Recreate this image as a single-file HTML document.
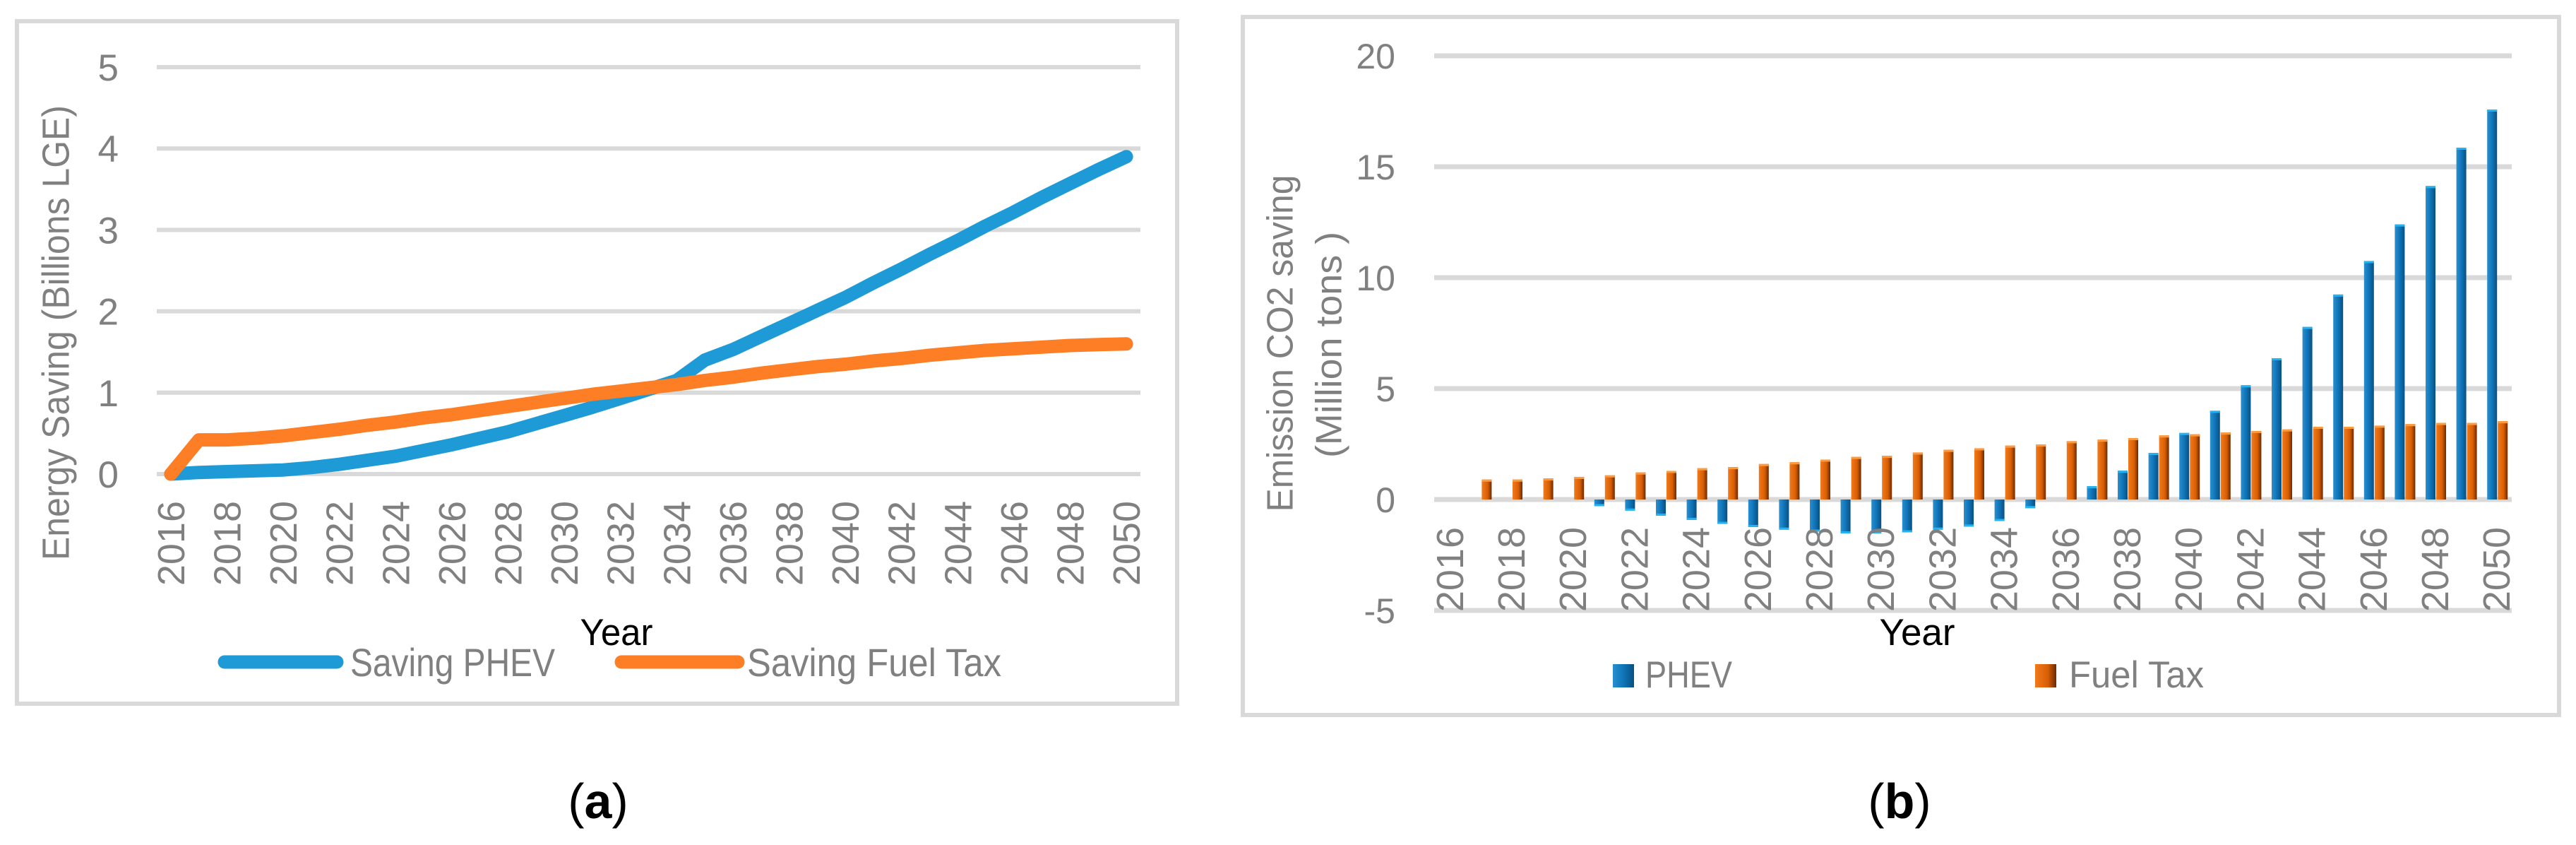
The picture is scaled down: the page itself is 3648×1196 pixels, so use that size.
<!DOCTYPE html>
<html><head><meta charset="utf-8"><style>
html,body{margin:0;padding:0;background:#fff;}
svg{display:block;}
text{font-family:"Liberation Sans",sans-serif;}
</style></head><body>
<svg id="fig" width="3648" height="1196" viewBox="0 0 3648 1196" xmlns="http://www.w3.org/2000/svg">
<defs>
<linearGradient id="gBlue" x1="0" y1="0" x2="1" y2="0">
<stop offset="0" stop-color="#2a8fd0"/><stop offset="0.5" stop-color="#0f75b8"/><stop offset="1" stop-color="#0a4f80"/></linearGradient>
<linearGradient id="gOrange" x1="0" y1="0" x2="1" y2="0">
<stop offset="0" stop-color="#f27a1a"/><stop offset="0.6" stop-color="#d85e05"/><stop offset="1" stop-color="#6b2a02"/></linearGradient>
</defs>
<g id="chartA">
<rect x="24" y="30" width="1643" height="966" fill="#fff" stroke="#d9d9d9" stroke-width="6"/>
<g id="aGrid"></g><g id="aXLabels"></g><g id="aLines"></g>
<text x="83" y="471" transform="rotate(-90 83 471)" text-anchor="middle" dominant-baseline="middle" font-size="54" fill="#808080" textLength="644" lengthAdjust="spacingAndGlyphs">Energy Saving (Billions LGE)</text>
<text x="873" y="913" text-anchor="middle" font-size="53" fill="#000" textLength="103" lengthAdjust="spacingAndGlyphs">Year</text>
<line x1="318" y1="937" x2="477" y2="937" stroke="#1e9bd7" stroke-width="19" stroke-linecap="round"/>
<text x="496" y="957" font-size="56" fill="#808080" textLength="290" lengthAdjust="spacingAndGlyphs">Saving PHEV</text>
<line x1="880" y1="937" x2="1045" y2="937" stroke="#fd7e24" stroke-width="19" stroke-linecap="round"/>
<text x="1058" y="957" font-size="56" fill="#808080" textLength="360" lengthAdjust="spacingAndGlyphs">Saving Fuel Tax</text>
</g>
<text x="847" y="1158" text-anchor="middle" font-size="70" font-family="Liberation Serif, serif" fill="#000">(<tspan font-weight="bold">a</tspan>)</text>

<g id="chartB">
<rect x="1760" y="24" width="1864" height="988" fill="#fff" stroke="#d9d9d9" stroke-width="6"/>
<g id="bGrid"></g><g id="bBars"></g><g id="bXLabels"></g>
<text x="1817" y="486" transform="rotate(-90 1817 486)" text-anchor="middle" dominant-baseline="middle" font-size="52" fill="#808080" textLength="477" lengthAdjust="spacingAndGlyphs">Emission CO2 saving</text>
<text x="1886" y="488" transform="rotate(-90 1886 488)" text-anchor="middle" dominant-baseline="middle" font-size="52" fill="#808080" textLength="320" lengthAdjust="spacingAndGlyphs">(Million tons )</text>
<text x="2715" y="913" text-anchor="middle" font-size="53" fill="#000" textLength="107" lengthAdjust="spacingAndGlyphs">Year</text>
<rect x="2284" y="940" width="30" height="33" fill="url(#gBlue)"/>
<text x="2330" y="973" font-size="53" fill="#808080" textLength="123" lengthAdjust="spacingAndGlyphs">PHEV</text>
<rect x="2882" y="940" width="30" height="33" fill="url(#gOrange)"/>
<text x="2930" y="973" font-size="53" fill="#808080" textLength="191" lengthAdjust="spacingAndGlyphs">Fuel Tax</text>
</g>
<text x="2690" y="1158" text-anchor="middle" font-size="70" font-family="Liberation Serif, serif" fill="#000">(<tspan font-weight="bold">b</tspan>)</text>
</svg>
<script>
const years = [];
for (let y = 2016; y <= 2050; y++) years.push(y);
const phevEnergy = [0,0.02,0.03,0.04,0.05,0.08,0.12,0.17,0.22,0.29,0.36,0.44,0.52,0.62,0.72,0.82,0.93,1.04,1.15,1.4,1.53,1.69,1.85,2.01,2.17,2.35,2.52,2.7,2.87,3.05,3.22,3.4,3.57,3.74,3.9];
const fuelEnergy = [0,0.42,0.42,0.44,0.47,0.51,0.55,0.6,0.64,0.69,0.73,0.78,0.83,0.88,0.93,0.98,1.02,1.06,1.1,1.15,1.19,1.24,1.28,1.32,1.35,1.39,1.42,1.46,1.49,1.52,1.54,1.56,1.58,1.59,1.6];
const aTicks = [0,1,2,3,4,5];
const phevCO2 = [0,0,0,0,0,-0.3,-0.5,-0.73,-0.92,-1.1,-1.24,-1.36,-1.45,-1.53,-1.53,-1.48,-1.36,-1.22,-0.97,-0.39,0,0.6,1.3,2.1,3.0,4.0,5.15,6.37,7.78,9.24,10.75,12.4,14.13,15.86,17.58];
const fuelCO2 = [0,0.9,0.9,0.95,1.02,1.09,1.22,1.29,1.41,1.46,1.6,1.68,1.8,1.92,1.97,2.12,2.24,2.31,2.43,2.48,2.63,2.7,2.77,2.89,2.94,3.02,3.09,3.16,3.28,3.28,3.33,3.4,3.45,3.45,3.53];
const bTicks = [-5,0,5,10,15,20];

const NS = "http://www.w3.org/2000/svg";
function mk(tag, attrs, parent){const e=document.createElementNS(NS,tag);for(const k in attrs)e.setAttribute(k,attrs[k]);parent.appendChild(e);return e;}

const aX0=222, aX1=1615, aY0=671, aPer=115.2;
const aStep=(aX1-aX0)/years.length;
const ax = i => aX0 + aStep*(i+0.5);
const ay = v => aY0 - v*aPer;
const aGrid=document.getElementById('aGrid');
aTicks.forEach(t=>{
  const l=mk('line',{x1:aX0,x2:aX1,y1:ay(t),y2:ay(t),stroke:'#d9d9d9','stroke-width':6},aGrid);
  
  
  const tx=mk('text',{x:168,y:ay(t)+19,'text-anchor':'end','font-size':53,fill:'#808080'},aGrid);
  tx.textContent=t;
  
  
});
const aXL=document.getElementById('aXLabels');
years.forEach((y,i)=>{
  if((y-2016)%2) return;
  const x=ax(i)+19, yy=709;
  const t=mk('text',{x:x,y:yy,transform:`rotate(-90 ${x} ${yy})`,'text-anchor':'end','font-size':54,fill:'#808080'},aXL);
  t.textContent=y;
  
  
});
const aL=document.getElementById('aLines');
function series(vals,color,name){
  const d=vals.map((v,i)=>(i?'L':'M')+ax(i).toFixed(1)+' '+ay(v).toFixed(1)).join(' ');
  const p=mk('path',{d:d,fill:'none',stroke:color,'stroke-width':19,'stroke-linecap':'round','stroke-linejoin':'round'},aL);
  
  
}
series(phevEnergy,'#1e9bd7','line-phev');
series(fuelEnergy,'#fd7e24','line-fueltax');

const bX0=2031, bX1=3557, bY0=707, bPer=31.4;
const bStep=(bX1-bX0)/years.length;
const bx = i => bX0 + bStep*(i+0.5);
const by = v => bY0 - v*bPer;
const bGrid=document.getElementById('bGrid');
bTicks.forEach(t=>{
  const l=mk('line',{x1:bX0,x2:bX1,y1:by(t),y2:by(t),stroke:'#d9d9d9','stroke-width':7},bGrid);
  
  
  const tx=mk('text',{x:1976,y:by(t)+18,'text-anchor':'end','font-size':50,fill:'#808080'},bGrid);
  tx.textContent=t;
  
  
});
const bB=document.getElementById('bBars');
function bar(i,v,off,fill,cap,name){
  if(v===0) return;
  const x=bx(i)+off, y1=by(Math.max(v,0)), y2=by(Math.min(v,0));
  const r=mk('rect',{x:x,y:y1,width:14,height:Math.max(1,y2-y1),fill:fill},bB);
  
  
  const c=mk('rect',{x:x,y:(v>0?y1:y2-3),width:14,height:3,fill:cap},bB);
  
  
}
years.forEach((y,i)=>{
  bar(i,phevCO2[i],-13,'url(#gBlue)','#22b4f2','bar-phev-'+y);
  bar(i,fuelCO2[i],2,'url(#gOrange)','#ff9a3c','bar-fueltax-'+y);
});
const bXL=document.getElementById('bXLabels');
years.forEach((y,i)=>{
  if((y-2016)%2) return;
  const x=bx(i)+19, yy=746;
  const t=mk('text',{x:x,y:yy,transform:`rotate(-90 ${x} ${yy})`,'text-anchor':'end','font-size':54,fill:'#808080'},bXL);
  t.textContent=y;
  
  
});
</script>
</body></html>
